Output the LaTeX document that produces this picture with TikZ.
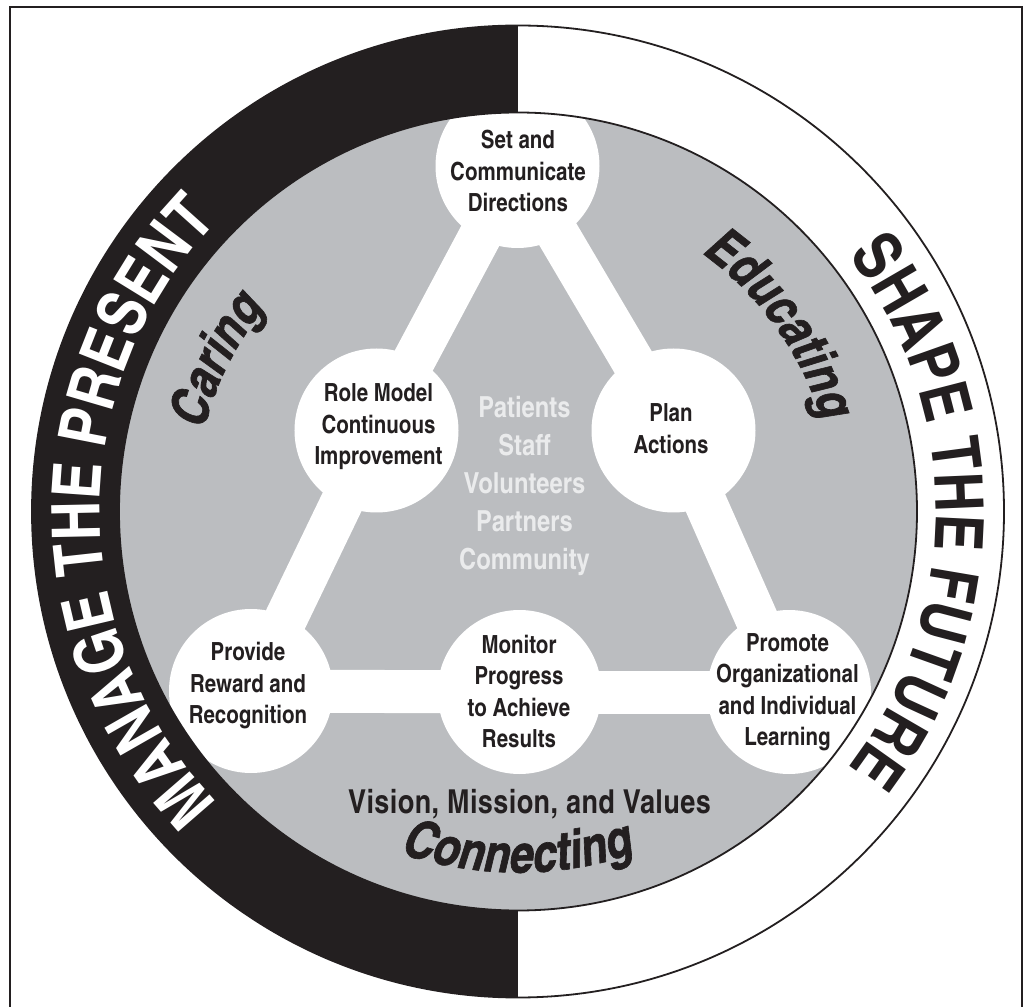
\documentclass[tikz,border=0pt]{standalone}
\usepackage{fontspec}
\usetikzlibrary{decorations.text}
\newfontfamily\cnb{texgyreheroscn-bold.otf}
\newfontfamily\cnbls{texgyreheroscn-bold.otf}[LetterSpace=1.2]
\newfontfamily\cnbi{texgyreheroscn-bolditalic.otf}[FakeBold=1.2]
\newcommand\ringfnt{\cnb\fontsize{67}{67}\selectfont}
\newcommand\itfnt{\cnbi\fontsize{53}{53}\selectfont}
\definecolor{ringblack}{HTML}{231F20}
\definecolor{discgray}{HTML}{BBBDC0}
\definecolor{paletext}{HTML}{EAEBEC}
\pgfdeclarelayer{back}
\pgfsetlayers{back,main}
\tikzset{
  spot/.style={circle, fill=white, minimum size=164pt, inner sep=0pt},
  lbl/.style={align=center, font=\cnb\fontsize{25}{31.5}\selectfont, text=ringblack, inner sep=0pt},
  conn/.style={white, line width=43pt},
  outline/.style={line width=1.8pt, draw=ringblack},
}
\begin{document}
\begin{tikzpicture}[x=1pt,y=1pt]
\useasboundingbox (-518,-494.5) rectangle (509,511.5);
\begin{pgfonlayer}{back}
  \draw[line width=1.5pt, ringblack] (-508,-530) rectangle (504,504.5);
  \fill[discgray] (0,0) circle[radius=399pt];
\end{pgfonlayer}
% circles
\node[spot] (sc) at (-0.5,345.5) {};
\node[spot] (rm) at (-141.5,81) {};
\node[spot] (pa) at (155.5,81) {};
\node[spot] (rr) at (-267,-179.5) {};
\node[spot] (mp) at (1.5,-180.5) {};
\node[spot] (ol) at (271,-180.5) {};
% connectors
\begin{pgfonlayer}{back}
  \draw[conn] (sc.center) -- (rm.center);
  \draw[conn] (rm.center) -- (rr.center);
  \draw[conn] (rr.center) -- (mp.center);
  \draw[conn] (mp.center) -- (ol.center);
  \draw[conn] (ol.center) -- (pa.center);
  \draw[conn] (pa.center) -- (sc.center);
\end{pgfonlayer}
% labels
\node[lbl] (scT) at (0,340.5) {Set and\\Communicate\\Directions};
\node[lbl] (rmT) at (-139.5,84.5) {Role Model\\Continuous\\Improvement};
\node[lbl] (paT) at (153,83) {Plan\\Actions};
\node[lbl] (rrT) at (-270,-174.5) {Provide\\Reward and\\Recognition};
\node[lbl] (mpT) at (1,-180) {Monitor\\Progress\\to Achieve\\Results};
\node[lbl] (olT) at (269.5,-180.5) {Promote\\Organizational\\and Individual\\Learning};
% ring
\fill[ringblack] (90:486pt) arc[start angle=90,end angle=270,radius=486pt] -- (270:399pt) arc[start angle=270,end angle=90,radius=399pt] -- cycle;
\fill[white] (90:486pt) arc[start angle=90,end angle=-90,radius=486pt] -- (-90:399pt) arc[start angle=-90,end angle=90,radius=399pt] -- cycle;
\draw[outline] (0,0) circle[radius=486pt];
\draw[outline] (0,0) circle[radius=399pt];
% centre texts
\node[align=center, font=\cnb\fontsize{29}{38}\selectfont, text=paletext, inner sep=0pt] (ctr) at (6.5,26) {Patients\\Staff\\Volunteers\\Partners\\Community};
\node[anchor=base, font=\cnbls\fontsize{33}{33}\selectfont, text=ringblack, inner sep=0pt] (vmv) at (11.5,-301.5) {Vision, Mission, and Values};
% arc texts
\path[decorate, decoration={text along path, text align=center, text color=white, text={|\ringfnt|MANAGE THE PRESENT}}] (260:418pt) arc[start angle=260,end angle=100,radius=418pt];
\path[decorate, decoration={text along path, text align=center, text color=ringblack, text={|\ringfnt|SHAPE THE FUTURE}}] (80:418pt) arc[start angle=80,end angle=-80,radius=418pt];
\path[decorate, decoration={text along path, text align=center, text color=ringblack, text={|\itfnt|Caring}}] (193.2:325pt) arc[start angle=193.2,end angle=113.2,radius=325pt];
\path[decorate, decoration={text along path, text align=center, text color=ringblack, text={|\itfnt|Educating}}] (75.5:317pt) arc[start angle=75.5,end angle=-4.5,radius=317pt];
\path[decorate, decoration={text along path, text align=center, text color=ringblack, text={|\itfnt|Connecting}}] (225:361pt) arc[start angle=225,end angle=315,radius=361pt];
\end{tikzpicture}
\end{document}
